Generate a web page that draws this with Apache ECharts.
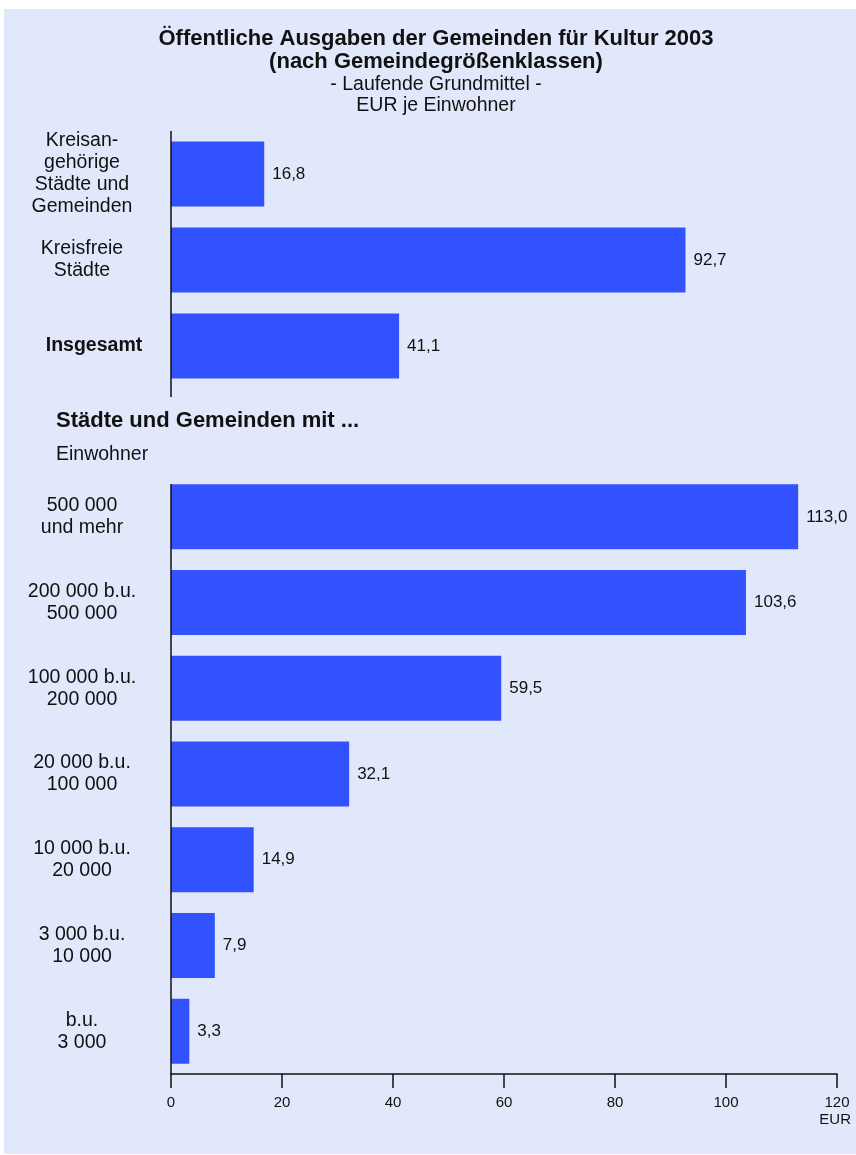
<!DOCTYPE html>
<html>
<head>
<meta charset="utf-8">
<script src="https://cdn.jsdelivr.net/npm/echarts@6/dist/echarts.min.js"></script>
<style>
html,body{margin:0;padding:0;background:#fff;}
#c{width:856px;height:1155px;}
</style>
</head>
<body>
<div id="c"></div>
<script>
const topCategories = ['Kreisan-\ngehörige\nStädte und\nGemeinden', 'Kreisfreie\nStädte', '{b|Insgesamt}'];
const topValues = [16.8, 92.7, 41.1];
const sizeCategories = ['500 000\nund mehr', '200 000 b.u.\n500 000', '100 000 b.u.\n200 000', '20 000 b.u.\n100 000', '10 000 b.u.\n20 000', '3 000 b.u.\n10 000', 'b.u.\n3 000'];
const sizeValues = [113.0, 103.6, 59.5, 32.1, 14.9, 7.9, 3.3];
const xTicks = [0, 20, 40, 60, 80, 100, 120];

const FONT = '"Liberation Sans", Arial, sans-serif';
const BAR = '#3352FF';
const BG = '#E2E8FB';
const fmt = v => v.toFixed(1).replace('.', ',');

const chart = echarts.init(document.getElementById('c'), null, {renderer: 'canvas'});

const catLabel = {
  show: true, align: 'center', margin: 89, fontSize: 19.5, lineHeight: 22,
  color: '#111', fontFamily: FONT,
  rich: { b: { fontWeight: 'bold', fontSize: 19.5, fontFamily: FONT, color: '#111', padding: [0, 0, 0, 24] } }
};
const valLabel = {
  show: true, position: 'right', distance: 8, fontSize: 17, color: '#111', fontFamily: FONT,
  formatter: p => fmt(p.value)
};

chart.setOption({
  backgroundColor: '#fff',
  animation: false,
  graphic: [
    { type: 'rect', z: -10, shape: { x: 4, y: 9, width: 852, height: 1145 }, style: { fill: BG } },
    { type: 'line', z: 10, shape: { x1: 171, y1: 131, x2: 171, y2: 397 }, style: { stroke: '#111', lineWidth: 1.5 } },
    { type: 'line', z: 10, shape: { x1: 171, y1: 484, x2: 171, y2: 1074 }, style: { stroke: '#111', lineWidth: 1.5 } }
  ],
  title: [
    { text: 'Öffentliche Ausgaben der Gemeinden für Kultur 2003\n(nach Gemeindegrößenklassen)', left: 436, textAlign: 'center', top: 27, padding: 0,
      textStyle: { fontFamily: FONT, fontSize: 22, fontWeight: 'bold', lineHeight: 23, color: '#111' },
      subtext: '- Laufende Grundmittel -\nEUR je Einwohner', itemGap: 1,
      subtextStyle: { fontFamily: FONT, fontSize: 19.5, lineHeight: 21, color: '#111' } },
    { text: 'Städte und Gemeinden mit ...', left: 56, top: 410, padding: 0,
      textStyle: { fontFamily: FONT, fontSize: 22, fontWeight: 'bold', color: '#111' } },
    { text: 'Einwohner', left: 56, top: 445, padding: 0,
      textStyle: { fontFamily: FONT, fontSize: 19.5, fontWeight: 'normal', color: '#111' } },
    { text: 'EUR', right: 5, top: 1112, padding: 0,
      textStyle: { fontFamily: FONT, fontSize: 15, fontWeight: 'normal', color: '#111' } }
  ],
  grid: [
    { left: 171, right: 19, top: 131, height: 258, containLabel: false },
    { left: 171, right: 19, top: 474, height: 600, containLabel: false }
  ],
  xAxis: [
    { gridIndex: 0, type: 'value', min: 0, max: 120, interval: 20, show: false },
    { gridIndex: 1, type: 'value', min: 0, max: 120, interval: 20,
      axisLine: { show: true, lineStyle: { color: '#111', width: 1.5 } },
      axisTick: { show: true, length: 14, lineStyle: { color: '#111', width: 1.5 } },
      splitLine: { show: false },
      axisLabel: { margin: 21, fontSize: 15, color: '#111', fontFamily: FONT,
        formatter: v => xTicks.includes(v) ? String(v) : '' } }
  ],
  yAxis: [
    { gridIndex: 0, type: 'category', inverse: true, data: topCategories,
      axisLine: { show: false }, axisTick: { show: false }, axisLabel: catLabel },
    { gridIndex: 1, type: 'category', inverse: true, data: sizeCategories,
      axisLine: { show: false }, axisTick: { show: false }, axisLabel: catLabel }
  ],
  series: [
    { type: 'bar', xAxisIndex: 0, yAxisIndex: 0, data: topValues, barWidth: 65,
      itemStyle: { color: BAR }, label: valLabel },
    { type: 'bar', xAxisIndex: 1, yAxisIndex: 1, data: sizeValues, barWidth: 65,
      itemStyle: { color: BAR }, label: valLabel }
  ]
});
</script>
</body>
</html>
